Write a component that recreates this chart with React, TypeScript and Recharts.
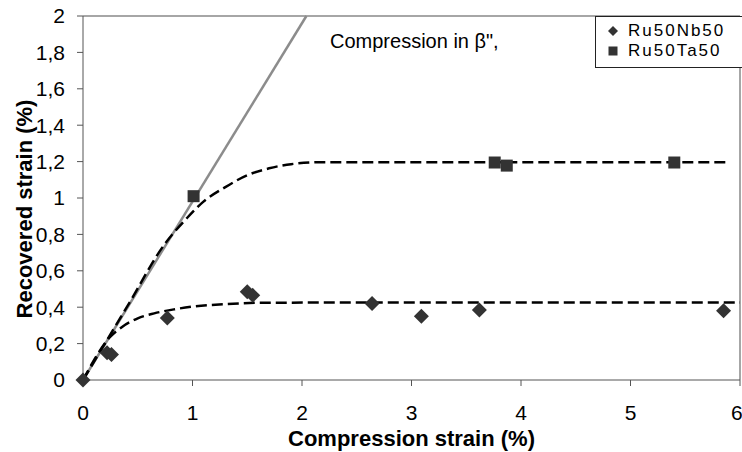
import { ComposedChart, Line, Scatter, XAxis, YAxis, ReferenceLine } from 'recharts'

const FONT = '"Liberation Sans", Arial, sans-serif'

// measured points
const nbPoints = [
  { x: 0, y: 0 },
  { x: 0.22, y: 0.15 },
  { x: 0.26, y: 0.14 },
  { x: 0.77, y: 0.34 },
  { x: 1.5, y: 0.485 },
  { x: 1.55, y: 0.465 },
  { x: 2.64, y: 0.42 },
  { x: 3.09, y: 0.35 },
  { x: 3.62, y: 0.385 },
  { x: 5.85, y: 0.38 },
]

const taPoints = [
  { x: 1.01, y: 1.01 },
  { x: 3.76, y: 1.195 },
  { x: 3.87, y: 1.178 },
  { x: 5.4, y: 1.195 },
]

// trend curves
const nbTrend = [
  { x: 0, y: 0 },
  { x: 0.25, y: 0.238 },
  { x: 0.36, y: 0.293 },
  { x: 0.5, y: 0.339 },
  { x: 0.65, y: 0.366 },
  { x: 0.83, y: 0.388 },
  { x: 1.0, y: 0.403 },
  { x: 1.3, y: 0.417 },
  { x: 1.6, y: 0.424 },
  { x: 2.5, y: 0.426 },
  { x: 6, y: 0.426 },
]

const taTrend = [
  { x: 0, y: 0 },
  { x: 0.4, y: 0.4 },
  { x: 0.75, y: 0.75 },
  { x: 0.95, y: 0.89 },
  { x: 1.1, y: 0.98 },
  { x: 1.3, y: 1.06 },
  { x: 1.5, y: 1.125 },
  { x: 1.7, y: 1.163 },
  { x: 1.9, y: 1.186 },
  { x: 2.2, y: 1.197 },
  { x: 5.89, y: 1.197 },
]

const elasticLine = [
  { x: 0, y: 0 },
  { x: 2.04, y: 2 },
]

const xTicks = [0, 1, 2, 3, 4, 5, 6]
const yTicks = [0, 0.2, 0.4, 0.6, 0.8, 1, 1.2, 1.4, 1.6, 1.8, 2]

const fmtComma = (v: number) => String(v).replace('.', ',')

const Diamond = (props: any) => {
  const { cx, cy } = props
  const r = 7.5
  return <path d={`M${cx},${cy - r}L${cx + r},${cy}L${cx},${cy + r}L${cx - r},${cy}Z`} fill="#333" />
}

const Square = (props: any) => {
  const { cx, cy } = props
  const h = 6
  return <rect x={cx - h} y={cy - h} width={h * 2} height={h * 2} fill="#333" />
}

const YTitle = () => (
  <text
    x={24}
    y={209}
    transform="rotate(-90, 24, 209)"
    textAnchor="middle"
    dominantBaseline="central"
    fontFamily={FONT}
    fontWeight="bold"
    fontSize={22}
    fill="#000"
  >
    Recovered strain (%)
  </text>
)

export default function App() {
  return (
    <div style={{ position: 'absolute', left: 0, top: 0, width: 742, height: 452, fontFamily: FONT, background: '#fff' }}>
      <ComposedChart width={742} height={452} margin={{ top: 16, right: 2, bottom: 0, left: 0 }}>
        <XAxis
          type="number"
          dataKey="x"
          domain={[0, 6]}
          ticks={xTicks}
          height={72}
          tickSize={6}
          tickMargin={19}
          stroke="#555"
          tick={{ fill: '#000', fontSize: 21, fontFamily: FONT }}
          label={{
            value: 'Compression strain (%)',
            position: 'insideBottom',
            offset: 6,
            fill: '#000',
            fontSize: 22,
            fontWeight: 'bold',
            fontFamily: FONT,
          }}
        />
        <YAxis
          type="number"
          dataKey="y"
          domain={[0, 2]}
          ticks={yTicks}
          width={83}
          tickSize={6}
          tickMargin={12}
          stroke="#555"
          tickFormatter={fmtComma}
          tick={{ fill: '#000', fontSize: 21, fontFamily: FONT }}
          label={<YTitle />}
        />
        <ReferenceLine y={2} stroke="#888" strokeWidth={1.5} />
        <ReferenceLine x={6} stroke="#888" strokeWidth={1.5} />
        <Line
          data={elasticLine}
          dataKey="y"
          type="linear"
          stroke="#8c8c8c"
          strokeWidth={2.5}
          dot={false}
          activeDot={false}
          isAnimationActive={false}
        />
        <Line
          data={taTrend}
          dataKey="y"
          type="monotone"
          stroke="#000"
          strokeWidth={2.5}
          strokeDasharray="11 5"
          dot={false}
          activeDot={false}
          isAnimationActive={false}
        />
        <Line
          data={nbTrend}
          dataKey="y"
          type="monotone"
          stroke="#000"
          strokeWidth={2.5}
          strokeDasharray="11 5"
          dot={false}
          activeDot={false}
          isAnimationActive={false}
        />
        <Scatter name="Ru50Nb50" data={nbPoints} shape={Diamond} isAnimationActive={false} />
        <Scatter name="Ru50Ta50" data={taPoints} shape={Square} isAnimationActive={false} />
      </ComposedChart>

      <div style={{ position: 'absolute', left: 330, top: 29, fontSize: 20, color: '#000', whiteSpace: 'nowrap', lineHeight: '24px' }}>
        Compression in β",
      </div>

      <div
        style={{
          position: 'absolute',
          left: 595,
          top: 16,
          width: 160,
          height: 52,
          boxSizing: 'border-box',
          border: '1px solid #222',
          background: '#fff',
          fontSize: 17,
          lineHeight: '20px',
          color: '#000',
          paddingTop: 4,
        }}
      >
        <div style={{ display: 'flex', alignItems: 'center', height: 20 }}>
          <svg width={32} height={20}>
            <path d="M17,5L22,10L17,15L12,10Z" fill="#333" />
          </svg>
          <span style={{ letterSpacing: 2 }}>Ru50Nb50</span>
        </div>
        <div style={{ display: 'flex', alignItems: 'center', height: 20 }}>
          <svg width={32} height={20}>
            <rect x={12.5} y={5.5} width={9} height={9} fill="#333" />
          </svg>
          <span style={{ letterSpacing: 2 }}>Ru50Ta50</span>
        </div>
      </div>
    </div>
  )
}
